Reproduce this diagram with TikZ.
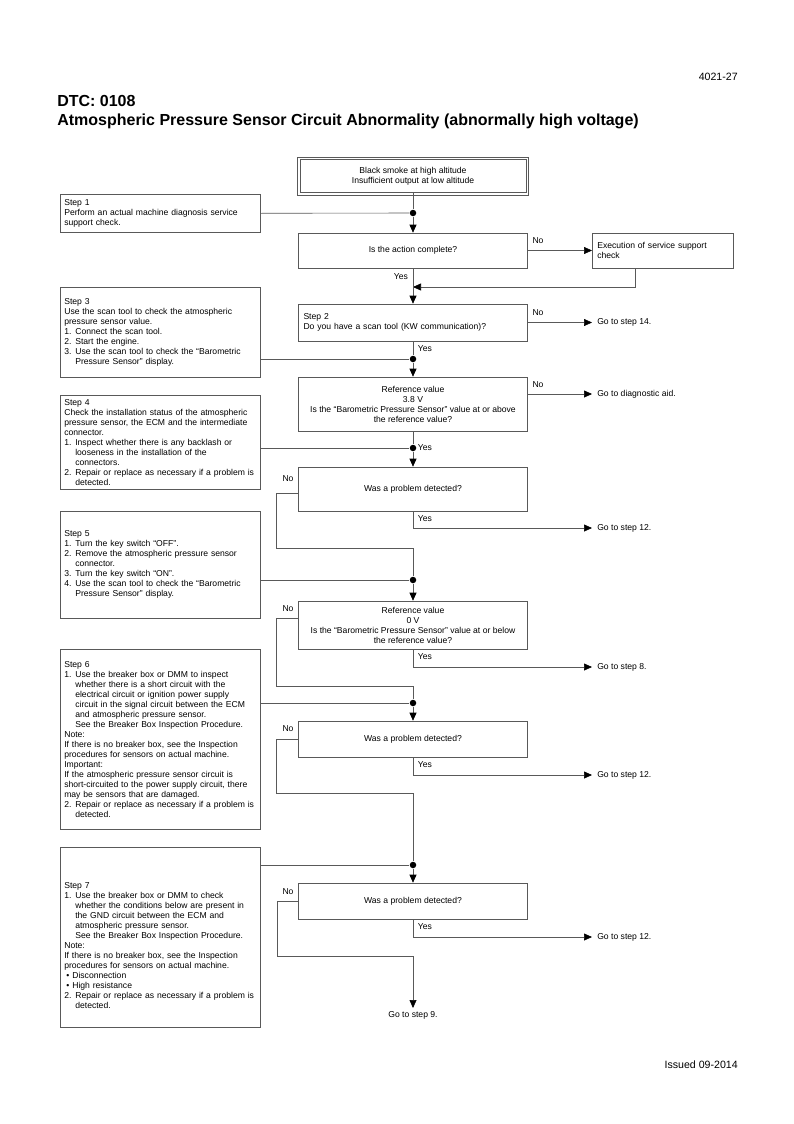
\documentclass[tikz,border=0pt]{standalone}
\usepackage{fontspec}
\setmainfont{Liberation Sans}
\usetikzlibrary{arrows.meta}
\definecolor{lineg}{gray}{0.35}
\newcommand{\itm}[1]{\makebox[11pt][l]{#1}}
\newcommand{\stind}{\hspace*{11pt}}
\newcommand{\blt}{\hspace*{2pt}\makebox[6pt][l]{\textbullet}}

\begin{document}
\begin{tikzpicture}[
        x=1pt, y=-1pt,
        line width=0.6pt,
        font=\fontsize{8.6}{10}\selectfont
    ]
    \tikzset{
        stepbox/.style = {rectangle, draw=lineg, anchor=north west, align=left, text width=192pt, inner xsep=4pt, inner ysep=0pt, minimum width=200pt},
        qbox/.style = {rectangle, draw=lineg, align=center, minimum width=229pt, inner sep=0pt},
        qlbox/.style = {qbox, align=left, text width=219pt, inner xsep=5pt},
        gonode/.style = {anchor=west, inner xsep=5pt, inner ysep=1pt},
        lbl/.style = {inner sep=0pt},
        titlef/.style = {inner sep=0pt, font=\fontsize{16}{19}\selectfont\bfseries},
        smallf/.style = {inner sep=0pt, font=\fontsize{10.6}{12}\selectfont},
        flow/.style = {draw=lineg, -{Triangle[length=8pt,width=7pt,color=black]}},
        link/.style = {draw=lineg},
        dot/.style = {circle, fill=black, inner sep=0pt, minimum size=6.5pt},
    }
    \useasboundingbox (0,0) rectangle (794,1124);
    % header and footer
    \node[anchor=base east, smallf] at (738,81) (page) {4021-27};
    \node[anchor=base west, titlef] at (57,106) (dtc) {DTC: 0108};
    \node[anchor=base west, titlef] at (57,125) (title) {Atmospheric Pressure Sensor Circuit Abnormality (abnormally high voltage)};
    \node[anchor=base east, smallf] at (738,1068) (issued) {Issued 09-2014};
    %
    \node[qbox, minimum width=226pt, minimum height=33pt] at (413,176) (top) {Black smoke at high altitude\\Insufficient output at low altitude};
    \draw[link] ([shift={(-2pt,2pt)}]top.north west) rectangle ([shift={(2pt,-2pt)}]top.south east);
    \node[stepbox, minimum height=38pt] at (60,194) (s1) {Step 1\\Perform an actual machine diagnosis service\\support check.};
    \node[qbox, minimum height=35pt] at (413,250.5) (q1) {Is the action complete?};
    \node[qbox, align=left, text width=131pt, inner xsep=5pt, minimum width=141pt, minimum height=35pt, anchor=north west] at (592,233) (exec) {Execution of service support\\check};
    \node[qlbox, minimum height=37pt] at (413,322.5) (q2) {Step 2\\Do you have a scan tool (KW communication)?};
    \node[stepbox, minimum height=90pt] at (60,287) (s3) {Step 3\\Use the scan tool to check the atmospheric\\pressure sensor value.\\\itm{1.}Connect the scan tool.\\\itm{2.}Start the engine.\\\itm{3.}Use the scan tool to check the “Barometric\\\stind Pressure Sensor” display.};
    \node[qbox, minimum height=54pt] at (413,404) (q3) {Reference value\\3.8 V\\Is the “Barometric Pressure Sensor” value at or above\\the reference value?};
    \node[stepbox, minimum height=94pt] at (60,395) (s4) {Step 4\\Check the installation status of the atmospheric\\pressure sensor, the ECM and the intermediate\\connector.\\\itm{1.}Inspect whether there is any backlash or\\\stind looseness in the installation of the\\\stind connectors.\\\itm{2.}Repair or replace as necessary if a problem is\\\stind detected.};
    \node[qbox, minimum height=44pt] at (413,489) (q4) {Was a problem detected?};
    \node[stepbox, minimum height=107pt] at (60,511) (s5) {Step 5\\\itm{1.}Turn the key switch “OFF”.\\\itm{2.}Remove the atmospheric pressure sensor\\\stind connector.\\\itm{3.}Turn the key switch “ON”.\\\itm{4.}Use the scan tool to check the “Barometric\\\stind Pressure Sensor” display.};
    \node[qbox, minimum height=48pt] at (413,625) (q5) {Reference value\\0 V\\Is the “Barometric Pressure Sensor” value at or below\\the reference value?};
    \node[stepbox, minimum height=180pt] at (60,649) (s6) {Step 6\\\itm{1.}Use the breaker box or DMM to inspect\\\stind whether there is a short circuit with the\\\stind electrical circuit or ignition power supply\\\stind circuit in the signal circuit between the ECM\\\stind and atmospheric pressure sensor.\\\stind See the Breaker Box Inspection Procedure.\\Note:\\If there is no breaker box, see the Inspection\\procedures for sensors on actual machine.\\Important:\\If the atmospheric pressure sensor circuit is\\short-circuited to the power supply circuit, there\\may be sensors that are damaged.\\\itm{2.}Repair or replace as necessary if a problem is\\\stind detected.};
    \node[qbox, minimum height=36pt] at (413,739) (q6) {Was a problem detected?};
    \node[stepbox, minimum height=180pt] at (60,847) (s7) {\mbox{}\\[12pt]Step 7\\\itm{1.}Use the breaker box or DMM to check\\\stind whether the conditions below are present in\\\stind the GND circuit between the ECM and\\\stind atmospheric pressure sensor.\\\stind See the Breaker Box Inspection Procedure.\\Note:\\If there is no breaker box, see the Inspection\\procedures for sensors on actual machine.\\\blt Disconnection\\\blt High resistance\\\itm{2.}Repair or replace as necessary if a problem is\\\stind detected.};
    \node[qbox, minimum height=36pt] at (413,901) (q7) {Was a problem detected?};
    %
    \node[gonode] at (592,322.5) (g14) {Go to step 14.};
    \node[gonode] at (592,394) (gda) {Go to diagnostic aid.};
    \node[gonode] at (592,528) (g12a) {Go to step 12.};
    \node[gonode] at (592,667) (g8) {Go to step 8.};
    \node[gonode] at (592,775) (g12b) {Go to step 12.};
    \node[gonode] at (592,937) (g12c) {Go to step 12.};
    \node[anchor=north, inner sep=3pt] at (413,1008) (g9) {Go to step 9.};
    %
    \node[dot] at (413,213) (j1) {};
    \node[dot] at (413,359) (j3) {};
    \node[dot] at (413,448) (j4) {};
    \node[dot] at (413,580) (j5) {};
    \node[dot] at (413,703) (j6) {};
    \node[dot] at (413,865) (j7) {};
    \coordinate (m1) at (413,287);
    \coordinate (c4) at (276,548);
    \coordinate (c5) at (276,686);
    \coordinate (c6) at (276,793);
    \coordinate (c7) at (277,956);
    %
    \node[lbl] at (538,240.5) (no1) {No};
    \node[lbl] at (538,312.5) (no2) {No};
    \node[lbl] at (538,385) (no3) {No};
    \node[lbl] at (288,479) (no4) {No};
    \node[lbl] at (288,609) (no5) {No};
    \node[lbl] at (288,729) (no6) {No};
    \node[lbl] at (288,892) (no7) {No};
    \node[lbl] at (401,277) (yes1) {Yes};
    \node[lbl] at (425,349) (yes2) {Yes};
    \node[lbl] at (425,448) (yes3) {Yes};
    \node[lbl] at (425,519) (yes4) {Yes};
    \node[lbl] at (425,657) (yes5) {Yes};
    \node[lbl] at (425,765) (yes6) {Yes};
    \node[lbl] at (425,927) (yes7) {Yes};
    %
    \draw[link] (top) -- (j1);
    \draw[link] (s1.east) -- (j1);
    \draw[flow] (j1) -- (q1.north);
    \draw[flow] (q1.east) -- (q1.east -| exec.west);
    \draw[flow] ([xshift=-28pt]exec.south) |- (m1);
    \draw[flow] (q1.south) -- (q2.north);
    \draw[flow] (q2.east) -- (q2.east -| g14.west);
    %
    \draw[link] (q2.south) -- (j3);
    \draw[link] (s3.east |- j3) -- (j3);
    \draw[flow] (j3) -- (q3.north);
    \draw[flow] (gda -| q3.east) -- (gda.west);
    %
    \draw[link] (q3.south) -- (j4);
    \draw[link] (s4.east |- j4) -- (j4);
    \draw[flow] (j4) -- (q4.north);
    \draw[link] ([yshift=-4pt]q4.west) -| (c4) -| (j5);
    \draw[flow] (q4.south) |- (g12a.west);
    %
    \draw[link] (s5.east |- j5) -- (j5);
    \draw[flow] (j5) -- (q5.north);
    \draw[link] ([yshift=7pt]q5.west) -| (c5) -| (j6);
    \draw[flow] (q5.south) |- (g8.west);
    %
    \draw[link] (s6.east |- j6) -- (j6);
    \draw[flow] (j6) -- (q6.north);
    \draw[link] (q6.west) -| (c6) -| (j7);
    \draw[flow] (q6.south) |- (g12b.west);
    %
    \draw[link] (s7.east |- j7) -- (j7);
    \draw[flow] (j7) -- (q7.north);
    \draw[flow] (q7.west) -| (c7) -| (g9.north);
    \draw[flow] (q7.south) |- (g12c.west);
\end{tikzpicture}
\end{document}
